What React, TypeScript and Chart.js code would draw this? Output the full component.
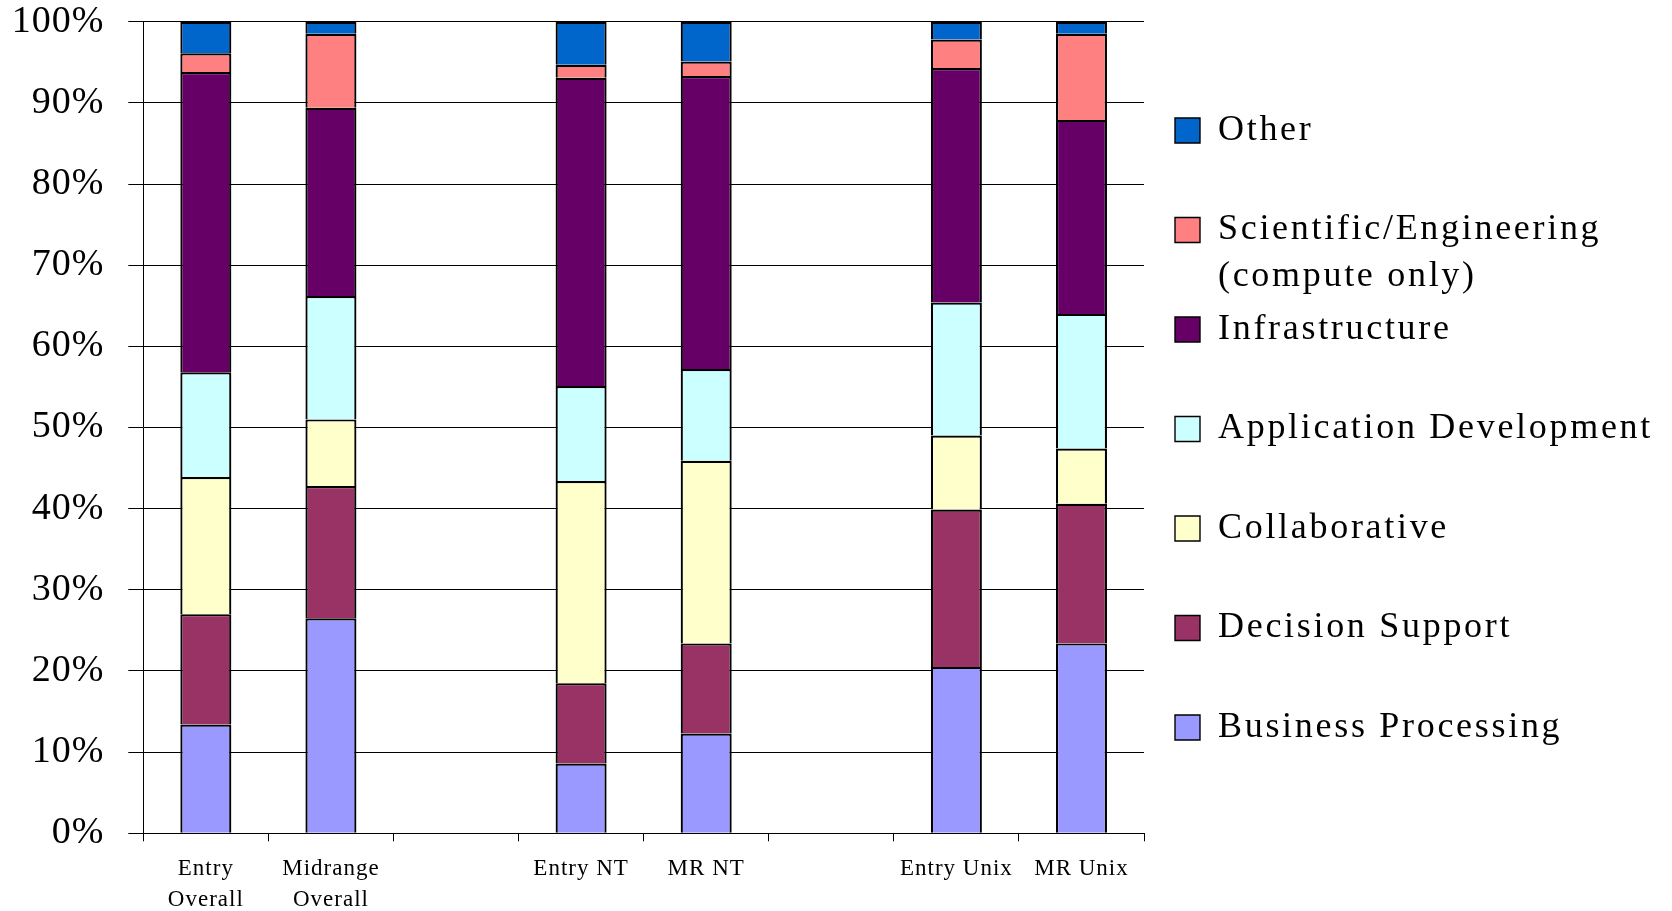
import React, { useEffect, useRef } from 'react';
import { Chart, registerables } from 'chart.js';

Chart.register(...registerables);

// ---- Data ----
const categories: (string | string[])[] = [
  ['Entry', 'Overall'],
  ['Midrange', 'Overall'],
  '',
  'Entry NT',
  'MR NT',
  '',
  'Entry Unix',
  'MR Unix',
];

const seriesNames = [
  'Business Processing',
  'Decision Support',
  'Collaborative',
  'Application Development',
  'Infrastructure',
  'Scientific/Engineering\n(compute only)',
  'Other',
];

const seriesColors = ['#9999FF', '#993366', '#FFFFCC', '#CCFFFF', '#660066', '#FF8080', '#0066CC'];

const businessProcessing = [13.4, 26.5, null, 8.6, 12.3, null, 20.5, 23.4];
const decisionSupport = [13.6, 16.3, null, 9.9, 11.1, null, 19.4, 17.2];
const collaborative = [16.9, 8.2, null, 24.9, 22.5, null, 9.1, 6.8];
const applicationDevelopment = [12.9, 15.2, null, 11.7, 11.3, null, 16.4, 16.6];
const infrastructure = [37.0, 23.2, null, 38.0, 36.1, null, 28.9, 23.9];
const scientificEngineering = [2.3, 9.1, null, 1.6, 1.8, null, 3.5, 10.6];
const other = [3.9, 1.5, null, 5.3, 4.9, null, 2.2, 1.5];

const seriesValues = [
  businessProcessing,
  decisionSupport,
  collaborative,
  applicationDevelopment,
  infrastructure,
  scientificEngineering,
  other,
];

const yMin = 0;
const yMax = 100;
const yStep = 10;

const FONT = "'Liberation Serif', 'Times New Roman', Times, serif";

export default function App() {
  const canvasRef = useRef<HTMLCanvasElement | null>(null);

  useEffect(() => {
    const canvas = canvasRef.current;
    if (!canvas) return;

    const LEGEND_SPACING = '2.7px';
    const TICK_SPACING = '1px';
    const LEGEND_FONT_SIZE = 36;
    const LEGEND_BOX = 25;
    const LEGEND_PAD = 5.5;
    const SPACER = 25.5;
    const PLOT_RIGHT = 1144;
    const W = 1672;

    // measure the legend's natural width the same way the legend does
    const mc = document.createElement('canvas').getContext('2d') as any;
    mc.font = `normal ${LEGEND_FONT_SIZE}px ${FONT}`;
    mc.letterSpacing = LEGEND_SPACING;
    let longest = '';
    seriesNames.forEach((n) =>
      n.split('\n').forEach((l) => {
        if (l.length > longest.length) longest = l;
      })
    );
    const textW = mc.measureText(longest).width;
    const legendW = LEGEND_PAD + LEGEND_BOX + LEGEND_FONT_SIZE / 2 + textW + 10;
    const padRight = W - PLOT_RIGHT - SPACER - legendW;

    const spacingPlugin = {
      id: 'letterSpacingPlugin',
      beforeUpdate(chart: any) {
        chart.ctx.letterSpacing = LEGEND_SPACING;
      },
      beforeDraw(chart: any) {
        chart.ctx.letterSpacing = LEGEND_SPACING;
      },
      afterDatasetsDraw(chart: any) {
        chart.ctx.letterSpacing = TICK_SPACING;
      },
      afterDraw(chart: any) {
        chart.ctx.letterSpacing = '0px';
      },
    };

    const chart = new Chart(canvas, {
      type: 'bar',
      data: {
        labels: categories as any,
        datasets: seriesNames.map((name, i) => ({
          label: name.replace('\n', ' '),
          data: seriesValues[i] as any,
          backgroundColor: seriesColors[i],
          borderColor: '#000000',
          borderWidth: 2.2,
          categoryPercentage: 1,
          barPercentage: 0.408,
        })),
      },
      options: {
        responsive: false,
        animation: false,
        events: [],
        layout: { padding: { top: 5, right: padRight, bottom: 0, left: 0 } },
        scales: {
          x: {
            stacked: true,
            offset: true,
            grid: {
              offset: true,
              drawOnChartArea: false,
              drawTicks: true,
              tickLength: 8,
              tickColor: '#000000',
              lineWidth: 1,
            },
            border: { display: true, color: '#000000', width: 1 },
            ticks: {
              autoSkip: false,
              maxRotation: 0,
              minRotation: 0,
              padding: 12,
              color: '#000000',
              z: 1,
              font: { family: FONT, size: 23, lineHeight: 31 / 23 },
            },
            afterFit(scale: any) {
              scale.height = 77.7;
              scale.paddingLeft = 0;
              scale.paddingRight = 0;
            },
          },
          y: {
            stacked: true,
            min: yMin,
            max: yMax,
            grid: {
              color: '#000000',
              lineWidth: 1,
              drawTicks: true,
              tickLength: 15,
              tickColor: '#000000',
            },
            border: { display: true, color: '#000000', width: 1 },
            ticks: {
              stepSize: yStep,
              padding: 24,
              color: '#000000',
              z: 1,
              font: { family: FONT, size: 38, lineHeight: 1 },
              callback: (v: any) => `${v}%`,
            },
            afterFit(scale: any) {
              scale.width = 143.3;
              scale.paddingTop = 21.7;
              scale.paddingBottom = 0;
              scale.paddingLeft = 0;
              scale.paddingRight = 0;
            },
          },
          y2: {
            type: 'linear',
            position: 'right',
            display: true,
            min: yMin,
            max: yMax,
            grid: { display: false, drawTicks: false },
            border: { display: false },
            ticks: { display: false },
            afterFit(scale: any) {
              scale.width = SPACER;
              scale.paddingTop = 0;
              scale.paddingBottom = 0;
              scale.paddingLeft = 0;
              scale.paddingRight = 0;
            },
          },
        },
        plugins: {
          tooltip: { enabled: false },
          title: { display: false },
          legend: {
            display: true,
            position: 'right',
            align: 'center',
            reverse: true,
            maxWidth: legendW + 1,
            labels: {
              color: '#000000',
              boxWidth: LEGEND_BOX,
              boxHeight: LEGEND_BOX,
              padding: LEGEND_PAD,
              font: { family: FONT, size: LEGEND_FONT_SIZE, lineHeight: 47 / 36 },
              generateLabels(ch: any) {
                const items = Chart.defaults.plugins.legend.labels.generateLabels(ch);
                return items.map((it: any) => {
                  const lines = seriesNames[it.datasetIndex].split('\n');
                  while (lines.length < 2) lines.push('');
                  return { ...it, text: lines, lineWidth: 1.4, strokeStyle: '#000000' };
                });
              },
            },
          },
        },
      } as any,
      plugins: [spacingPlugin],
    });

    return () => {
      chart.destroy();
    };
  }, []);

  return (
    <div
      style={{
        position: 'fixed',
        left: 0,
        top: 0,
        width: '1672px',
        height: '911px',
        background: '#ffffff',
        overflow: 'hidden',
      }}
    >
      <canvas
        ref={canvasRef}
        width={1672}
        height={911}
        style={{ display: 'block', width: '1672px', height: '911px' }}
      />
    </div>
  );
}
